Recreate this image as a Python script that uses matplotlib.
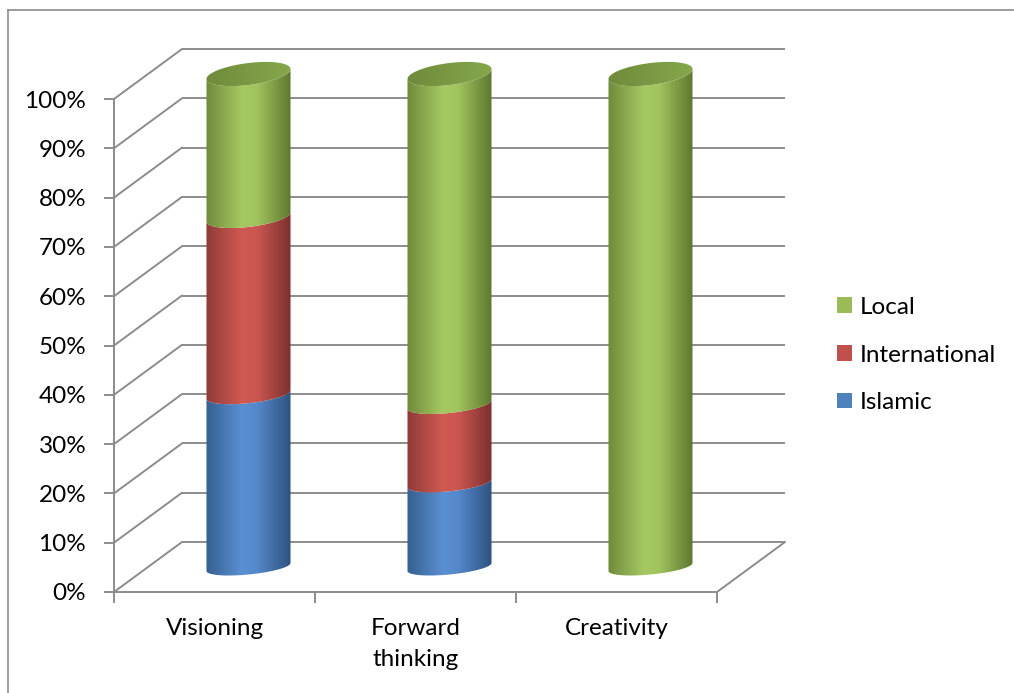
import matplotlib
matplotlib.use("Agg")
import matplotlib.pyplot as plt
import matplotlib.transforms as mtransforms
from matplotlib.patches import Polygon, Patch, ConnectionPatch
from matplotlib.lines import Line2D
from matplotlib.colors import LinearSegmentedColormap
import numpy as np

categories = ["Visioning", "Forward\nthinking", "Creativity"]
islamic = [35, 17, 0]
international = [36, 16, 0]
local = [29, 67, 100]
series = [("Islamic", islamic), ("International", international), ("Local", local)]
yticks = list(range(0, 101, 10))
ytick_labels = [f"{v}%" for v in yticks]

# flat colours (legend) and cylinder shading (edge, light, edge)
flat = {"Local": "#9BBB59", "International": "#C0504D", "Islamic": "#4F81BD"}
shade = {
    "Local": ["#6F8B3B", "#A6C862", "#A2C45E", "#5E7830"],
    "International": ["#8F3B38", "#D05A52", "#CB5650", "#7C302D"],
    "Islamic": ["#35608F", "#5A8FD2", "#5589CB", "#2E5280"],
}
top_colors = ["#6F8B3B", "#86A74B"]
grid_col = "#8C8C8C"

plt.rcParams['font.family'] = ['Lato', 'DejaVu Sans']

W, H = 1014, 693
px = 4.93  # pixels per percent on the front plane
extra = 60 / px  # room above 100% so the cylinder tops are not cut off
fig = plt.figure(figsize=(W / 100, H / 100), dpi=100)
ax = fig.add_axes([114 / W, 1 - 592 / H, 603 / W, (493 + 60) / H])

# depth offsets in pixels (back wall and middle of the floor)
back = mtransforms.offset_copy(ax.transData, fig=fig, x=68, y=50, units='dots')
mid = mtransforms.offset_copy(ax.transData, fig=fig, x=34, y=25, units='dots')

# back wall gridlines and left wall diagonals
for v in yticks:
    ax.plot([-0.5, 2.5], [v, v], transform=back, color=grid_col, lw=1.4,
            clip_on=False, zorder=1, solid_capstyle='butt')
    cp = ConnectionPatch((-0.5, v), (-0.5, v), coordsA=ax.transData, coordsB=back,
                         color=grid_col, lw=1.4, clip_on=False, zorder=1)
    ax.add_artist(cp)
cp = ConnectionPatch((2.5, 0), (2.5, 0), coordsA=ax.transData, coordsB=back,
                     color=grid_col, lw=1.4, clip_on=False, zorder=1)
ax.add_artist(cp)

# cylinders
half_w = 0.209
t_low = np.linspace(np.pi, 2 * np.pi, 60)


def arc(cx, v, t):
    b = (7.5 + 3.5 * v / 100) / px
    k = (4 + 1.0 * v / 100) / px
    return cx + half_w * np.cos(t), v + b * np.sin(t) + k * np.cos(t)


for i in range(len(categories)):
    bottom = 0
    for name, vals in series:
        v = vals[i]
        if v <= 0:
            continue
        y0, y1 = bottom, bottom + v
        xa, ya = arc(i, y0, t_low)
        xb, yb = arc(i, y1, t_low[::-1])
        poly = Polygon(np.column_stack([np.r_[xa, xb], np.r_[ya, yb]]), closed=True,
                       transform=mid, facecolor='none', edgecolor='none', zorder=3)
        ax.add_patch(poly)
        cmap = LinearSegmentedColormap.from_list(name, list(zip([0, 0.42, 0.6, 1], shade[name])))
        im = ax.imshow(np.linspace(0, 1, 200)[None, :], cmap=cmap, aspect='auto',
                       extent=[i - half_w, i + half_w, y0 - 5, y1 + 5],
                       transform=mid, zorder=3, interpolation='bilinear')
        im.set_clip_path(poly)
        bottom = y1
    # top cap
    xt, yt = arc(i, bottom, np.linspace(0, 2 * np.pi, 120))
    cap = Polygon(np.column_stack([xt, yt]), closed=True, transform=mid,
                  facecolor='none', edgecolor='none', zorder=4)
    ax.add_patch(cap)
    cmap = LinearSegmentedColormap.from_list("top", top_colors)
    im = ax.imshow(np.linspace(0, 1, 100)[None, :], cmap=cmap, aspect='auto',
                   extent=[i - half_w, i + half_w, bottom - 5, bottom + 5],
                   transform=mid, zorder=4, interpolation='bilinear')
    im.set_clip_path(cap)

ax.set_xlim(-0.5, 2.5)
ax.set_ylim(0, 100 + extra)

for s in ["top", "right"]:
    ax.spines[s].set_visible(False)
for s in ["left", "bottom"]:
    ax.spines[s].set_color(grid_col)
    ax.spines[s].set_linewidth(1.4)
    ax.spines[s].set_zorder(5)
ax.spines["left"].set_bounds(0, 100)

ax.set_yticks(yticks, ytick_labels)
ax.set_xticks(range(len(categories)), categories)
ax.set_xticks([-0.5, 0.5, 1.5, 2.5], minor=True)
ax.tick_params(axis='y', length=7, width=1.4, color=grid_col, labelsize=17.5, pad=13)
ax.tick_params(axis='x', which='major', length=0, labelsize=17.5, pad=18.5)
ax.tick_params(axis='x', which='minor', length=8, width=1.4, color=grid_col)
for lab in ax.get_xticklabels():
    lab.set_linespacing(1.6)
ax.patch.set_visible(False)

handles = [Patch(facecolor=flat[n], edgecolor='none', label=n)
           for n in ["Local", "International", "Islamic"]]
ax.legend(handles=handles, loc='center left', bbox_to_anchor=(837 / W, 1 - 355 / H),
          bbox_transform=fig.transFigure, frameon=False, fontsize=17.5,
          handlelength=0.6, handleheight=0.6, handletextpad=0.35,
          labelspacing=1.1, borderpad=0, borderaxespad=0)

# outer chart border
fig.add_artist(Line2D([8 / W, 8 / W], [0, 1 - 10 / H], transform=fig.transFigure,
                      color=grid_col, lw=1.2))
fig.add_artist(Line2D([8 / W, 1], [1 - 10 / H, 1 - 10 / H], transform=fig.transFigure,
                      color=grid_col, lw=1.2))

fig.savefig("out.png", dpi=100)
